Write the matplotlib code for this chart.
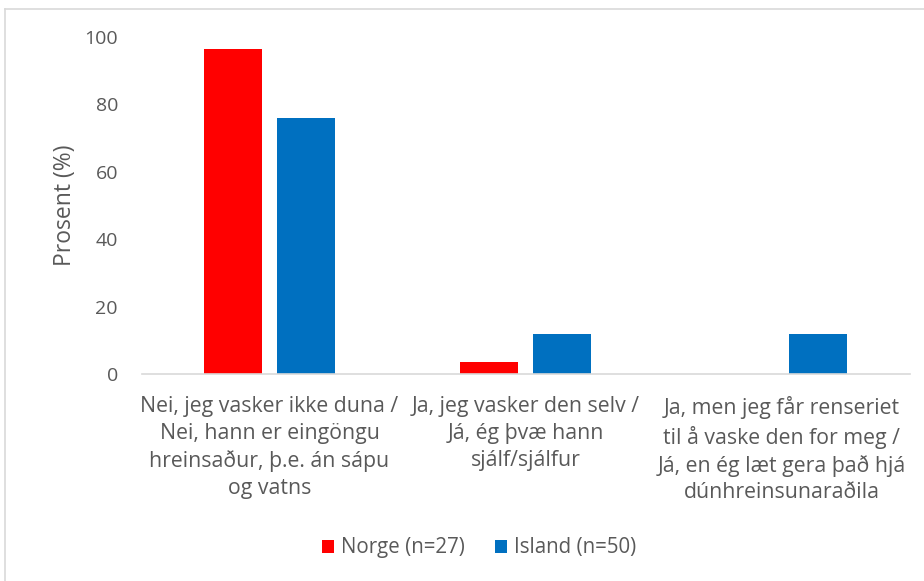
import matplotlib
matplotlib.use("Agg")
import matplotlib.pyplot as plt
import numpy as np

categories = [
    "Nei, jeg vasker ikke duna /\nNei, hann er eingöngu\nhreinsaður, þ.e. án sápu\nog vatns",
    "Ja, jeg vasker den selv /\nJá, ég þvæ hann\nsjálf/sjálfur",
    "Ja, men jeg får renseriet\ntil å vaske den for meg /\nJá, en ég læt gera það hjá\ndúnhreinsunaraðila",
]
norge = [96.3, 3.7, 0.0]
island = [76.0, 12.0, 12.0]
series_names = ["Norge (n=27)", "Island (n=50)"]
colors = ["#FF0000", "#0070C0"]
yticks = [0, 20, 40, 60, 80, 100]

plt.rcParams['font.family'] = ['Open Sans', 'DejaVu Sans']
txt = "#595959"

fig = plt.figure(figsize=(9.24, 5.81), dpi=100)
ax = fig.add_axes([141.5/924, 1-374/581, 768/924, 337/581])

x = np.arange(len(categories))
w = 0.227
off = 0.143
ax.bar(x - off, norge, w, color=colors[0], label=series_names[0])
ax.bar(x + off, island, w, color=colors[1], label=series_names[1])

ax.set_xlim(-0.5, 2.5)
ax.set_ylim(0, 100)
ax.set_yticks(yticks)
ax.set_yticklabels([str(v) for v in yticks], fontsize=14, color=txt)
ax.set_xticks(x)
ax.set_xticklabels(categories, fontsize=15.3, color=txt, linespacing=1.36, va='top')
ax.tick_params(axis='both', length=0)
ax.tick_params(axis='x', pad=16)
ax.tick_params(axis='y', pad=17)
for s in ['top', 'right', 'left']:
    ax.spines[s].set_visible(False)
ax.spines['bottom'].set_color('#D9D9D9')
ax.spines['bottom'].set_linewidth(1.2)
ax.set_ylabel("Prosent (%)", fontsize=16.5, color=txt, labelpad=5)

fig.legend(loc='center', bbox_to_anchor=(479/924, 1-548/581), ncol=2, frameon=False,
           fontsize=14.8, labelcolor=txt, handlelength=0.6, handleheight=0.6,
           handletextpad=0.35, columnspacing=1.45)

fig.add_artist(plt.Line2D([5/924, 1], [1-9/581, 1-9/581], color='#D9D9D9', lw=1.2))
fig.add_artist(plt.Line2D([5/924, 5/924], [0, 1-9/581], color='#D9D9D9', lw=1.2))

fig.savefig("out.png", dpi=100)
